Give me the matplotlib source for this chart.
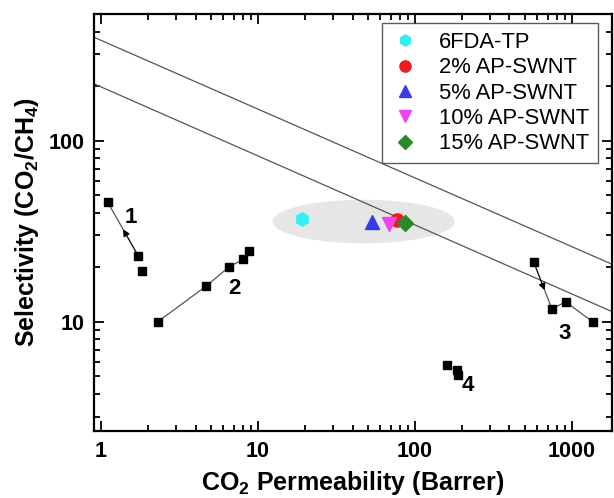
import numpy as np
import matplotlib
matplotlib.use("Agg")
import matplotlib.pyplot as plt

plt.rcParams['font.family'] = ['Liberation Sans', 'DejaVu Sans']
plt.rcParams['mathtext.fontset'] = 'custom'
plt.rcParams['mathtext.rm'] = 'Liberation Sans'
plt.rcParams['mathtext.bf'] = 'Liberation Sans:bold'

# ---- data ----
membranes = ['6FDA-TP', '2% AP-SWNT', '5% AP-SWNT', '10% AP-SWNT', '15% AP-SWNT']
mem_perm = [19, 77, 53, 68, 87]
mem_sel = [36.9, 36.4, 35.5, 34.6, 35.0]
mem_colors = ['#33f0f0', '#ee1c1c', '#3a3ae8', '#ee44ee', '#2a8a2a']
mem_markers = ['h', 'o', '^', 'v', 'D']
mem_sizes = [9.5, 9.5, 9.5, 9.5, 8]

s1_perm = [1.10, 1.73, 1.81]
s1_sel = [45.8, 23.0, 19.0]
s2_perm = [2.29, 4.69, 6.57, 8.06, 8.8]
s2_sel = [10.0, 15.8, 20.2, 22.1, 24.5]
s3_perm = [572, 745, 914, 1358]
s3_sel = [21.3, 11.8, 12.9, 10.0]
s4_perm = [160, 184, 187]
s4_sel = [5.8, 5.4, 5.1]

# Robeson upper bounds: alpha = (k / P)^(1/n)
bounds_k = [1073700, 5369140]
bounds_n = [2.6264, 2.636]

xlim = (0.9, 1800)
ylim = (2.5, 500)

fig = plt.figure(figsize=(6.14, 4.98), dpi=100)
ax = fig.add_axes([0.153, 0.1345, 0.8437, 0.8375])
ax.set_xscale('log')
ax.set_yscale('log')
ax.set_xlim(*xlim)
ax.set_ylim(*ylim)

# upper bound lines
xx = np.logspace(np.log10(xlim[0]), np.log10(xlim[1]), 50)
for k, n in zip(bounds_k, bounds_n):
    ax.plot(xx, (k / xx) ** (1.0 / n), color='#555555', lw=0.9, zorder=2)

# gray ellipse (in log space)
t = np.linspace(0, 2 * np.pi, 200)
cx, cy, a, b = np.log10(47), np.log10(35.8), 0.58, 0.12
ax.fill(10 ** (cx + a * np.cos(t)), 10 ** (cy + b * np.sin(t)),
        color='#e6e6e6', lw=0, zorder=1)

lc = '#555555'
def geo_mid(p0, p1, f):
    return 10 ** (np.log10(p0) + f * (np.log10(p1) - np.log10(p0)))

# series 1 with arrow
mx = geo_mid(s1_perm[1], s1_perm[0], 0.5)
my = geo_mid(s1_sel[1], s1_sel[0], 0.5)
ax.plot([mx, s1_perm[0]], [my, s1_sel[0]], color=lc, lw=0.9, zorder=2)
ax.annotate('', xy=(mx, my), xytext=(s1_perm[1], s1_sel[1]),
            arrowprops=dict(arrowstyle='-|>', color='black', lw=0.9,
                            mutation_scale=10, shrinkA=0, shrinkB=0), zorder=3)
ax.plot(s1_perm, s1_sel, ls='none', marker='s', color='black', ms=6.3, zorder=4)

# series 2
ax.plot(s2_perm, s2_sel, color=lc, lw=0.9, zorder=2)
ax.plot(s2_perm, s2_sel, ls='none', marker='s', color='black', ms=6.3, zorder=4)

# series 3 with arrow
mx = geo_mid(s3_perm[0], s3_perm[1], 0.6)
my = geo_mid(s3_sel[0], s3_sel[1], 0.6)
ax.plot([mx, s3_perm[1]], [my, s3_sel[1]], color=lc, lw=0.9, zorder=2)
ax.annotate('', xy=(mx, my), xytext=(s3_perm[0], s3_sel[0]),
            arrowprops=dict(arrowstyle='-|>', color='black', lw=0.9,
                            mutation_scale=10, shrinkA=0, shrinkB=0), zorder=3)
ax.plot(s3_perm[1:], s3_sel[1:], color=lc, lw=0.9, zorder=2)
ax.plot(s3_perm, s3_sel, ls='none', marker='s', color='black', ms=6.3, zorder=4)

# series 4
ax.plot(s4_perm, s4_sel, ls='none', marker='s', color='black', ms=6.3, zorder=4)

# numbers
num_kw = dict(fontsize=16, fontweight='bold', ha='center', va='center')
ax.text(1.55, 37.5, '1', **num_kw)
ax.text(7.1, 15.3, '2', **num_kw)
ax.text(905, 8.6, '3', **num_kw)
ax.text(218, 4.45, '4', **num_kw)

# membranes
for name, p, s, c, m, ms in zip(membranes, mem_perm, mem_sel, mem_colors, mem_markers, mem_sizes):
    ax.plot([p], [s], ls='none', marker=m, color=c, ms=ms, label=name, zorder=5)

leg = ax.legend(loc='upper right', bbox_to_anchor=(0.973, 0.978), fontsize=15.8,
                borderaxespad=0, frameon=True, fancybox=False, edgecolor='#333333',
                handletextpad=0.9, labelspacing=0.2, borderpad=0.4,
                handlelength=1.3, markerscale=0.85)
leg.get_frame().set_linewidth(1.0)

# axes styling
for sp in ax.spines.values():
    sp.set_linewidth(1.6)
ax.tick_params(which='both', direction='in', top=True, right=True, width=1.3)
ax.tick_params(which='major', length=7, labelsize=15.5, pad=7)
ax.tick_params(which='minor', length=4)
ax.xaxis.set_major_formatter(matplotlib.ticker.FuncFormatter(lambda v, p: f'{v:g}'))
ax.yaxis.set_major_formatter(matplotlib.ticker.FuncFormatter(lambda v, p: f'{v:g}'))
ax.yaxis.set_minor_formatter(matplotlib.ticker.NullFormatter())
ax.xaxis.set_minor_formatter(matplotlib.ticker.NullFormatter())
for lab in ax.get_xticklabels() + ax.get_yticklabels():
    lab.set_fontweight('bold')

ax.set_xlabel(r'CO$_\mathbf{2}$ Permeability (Barrer)', fontsize=18, fontweight='bold', labelpad=5)
ax.set_ylabel(r'Selectivity (CO$_\mathbf{2}$/CH$_\mathbf{4}$)', fontsize=18, fontweight='bold', labelpad=5)

fig.savefig('out.png', dpi=100)
